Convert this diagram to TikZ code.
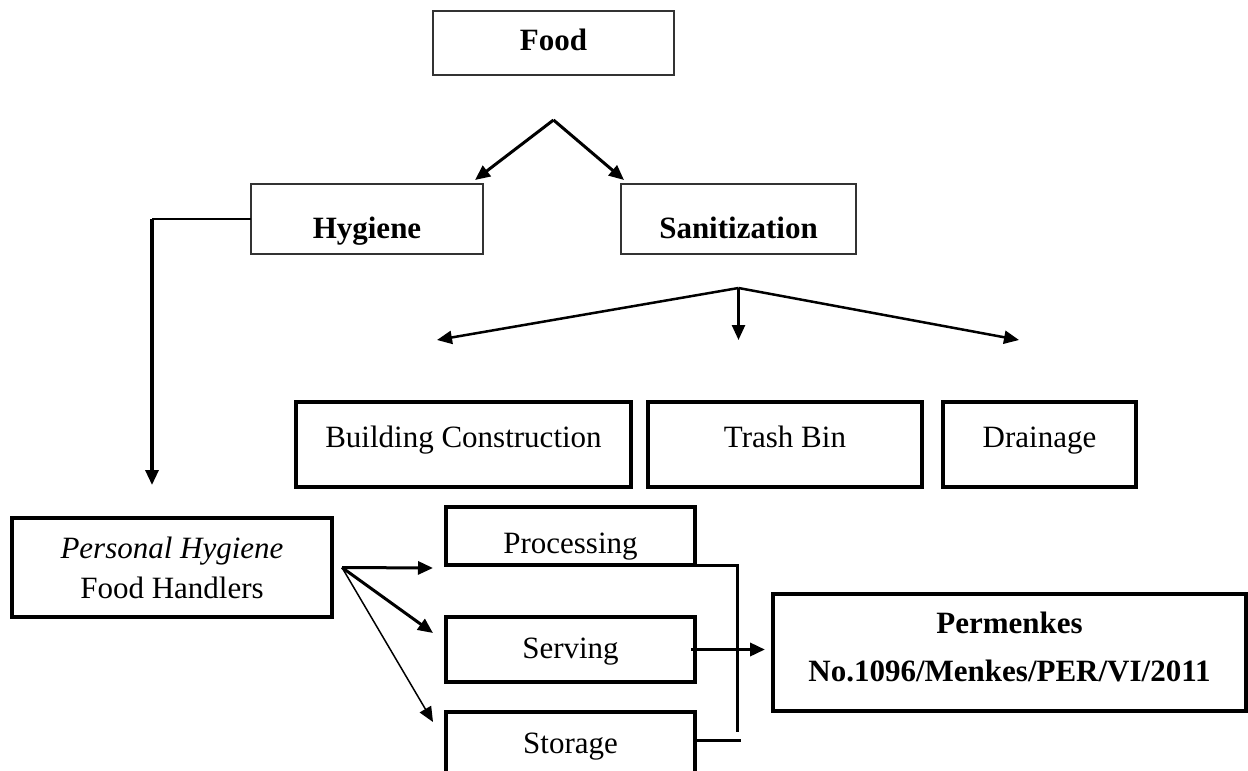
\documentclass[tikz,border=0pt]{standalone}
\usepackage{fontspec}
\setmainfont{Liberation Serif}
\usetikzlibrary{arrows.meta}
\newcommand{\diagfont}{\fontsize{31}{40}\selectfont}
\tikzset{
  thinbox/.style={draw=black!80, line width=1.3pt, inner sep=0pt, outer sep=0pt, anchor=north west, font=\diagfont\bfseries},
  thickbox/.style={draw, line width=3.3pt, inner sep=0pt, outer sep=0pt, anchor=north west, font=\diagfont},
}
\begin{document}
\begin{tikzpicture}[x=1pt, y=-1pt, line width=3pt, >={Triangle[length=15pt,width=13pt]}]
    \useasboundingbox (0,0) rectangle (1248,771);
    % top level
    \node[thinbox, minimum width=241pt, minimum height=64pt, text height=39pt, text depth=25pt] (food) at (433,11) {Food};
    \node[thinbox, minimum width=232pt, minimum height=70pt, text height=54pt, text depth=16pt] (hyg) at (251,184) {Hygiene};
    \node[thinbox, minimum width=235pt, minimum height=70pt, text height=54pt, text depth=16pt] (san) at (621,184) {Sanitization};
    \coordinate (fsplit) at ([yshift=-45pt]food.south);
    \draw[->] (fsplit) -- ([xshift=-8pt,yshift=4pt]hyg.north east);
    \draw[->] (fsplit) -- ([xshift=3pt,yshift=4pt]san.north west);
    % sanitization
    \node[thickbox, minimum width=335pt, minimum height=85pt, text height=45pt, text depth=40pt] (build) at (296,402) {Building Construction};
    \node[thickbox, minimum width=274pt, minimum height=85pt, text height=45pt, text depth=40pt] (trash) at (648,402) {Trash Bin};
    \node[thickbox, minimum width=193pt, minimum height=85pt, text height=45pt, text depth=40pt] (drain) at (943,402) {Drainage};
    \coordinate (ssplit) at ([yshift=-34pt]san.south);
    \coordinate (tbuild) at (437,340);
    \coordinate (ttrash) at (ssplit |- tbuild);
    \coordinate (tdrain) at (1019,340);
    \draw[->, line width=2.5pt] (ssplit) -- (tbuild);
    \draw[->, line width=2.5pt] (ssplit) -- (ttrash);
    \draw[->, line width=2.5pt] (ssplit) -- (tdrain);
    % hygiene
    \node[thickbox, minimum width=320pt, minimum height=99pt, align=center] (pers) at (12,518) {{\itshape Personal Hygiene}\\Food Handlers};
    \coordinate (hbend) at ([xshift=-99pt]hyg.west);
    \coordinate (htip) at (152,485);
    \draw[line width=1.5pt] (hyg.west) -- (hbend);
    \draw[->, line width=3.3pt] (hbend) -- (htip);
    \node[thickbox, minimum width=249pt, minimum height=58pt, text height=46pt, text depth=12pt] (proc) at (446,507) {Processing};
    \node[thickbox, minimum width=249pt, minimum height=65pt, text height=41pt, text depth=24pt] (serv) at (446,617) {Serving};
    \node[thickbox, minimum width=249pt, minimum height=88pt, text height=41pt, text depth=47pt] (stor) at (446,712) {Storage};
    \coordinate (pfan) at ([xshift=10pt]pers.east);
    \coordinate (tproc) at (433,568);
    \coordinate (tserv) at (433,633);
    \coordinate (tstor) at (433,722);
    \draw[->] (pfan) -- (tproc);
    \draw[->] (pfan) -- (tserv);
    \draw[->, line width=1.5pt] (pfan) -- (tstor);
    % regulation
    \node[thickbox, minimum width=473pt, minimum height=117pt, align=center, font=\diagfont\bfseries] (perm) at (773,594) {Permenkes\\[8pt]No.1096/Menkes/PER/VI/2011\\[-28pt]};
    \coordinate (pbend) at ([xshift=42pt]proc.south east);
    \coordinate (pend) at (737,732);
    \draw (proc.south east) -- (pbend) -- (pend);
    \coordinate (send) at (741,740);
    \draw (stor.north east |- send) -- (send);
    \draw[->, line width=3.5pt, shorten >=8pt] ([xshift=-4pt]serv.east) -- (serv.east -| perm.west);
\end{tikzpicture}
\end{document}
